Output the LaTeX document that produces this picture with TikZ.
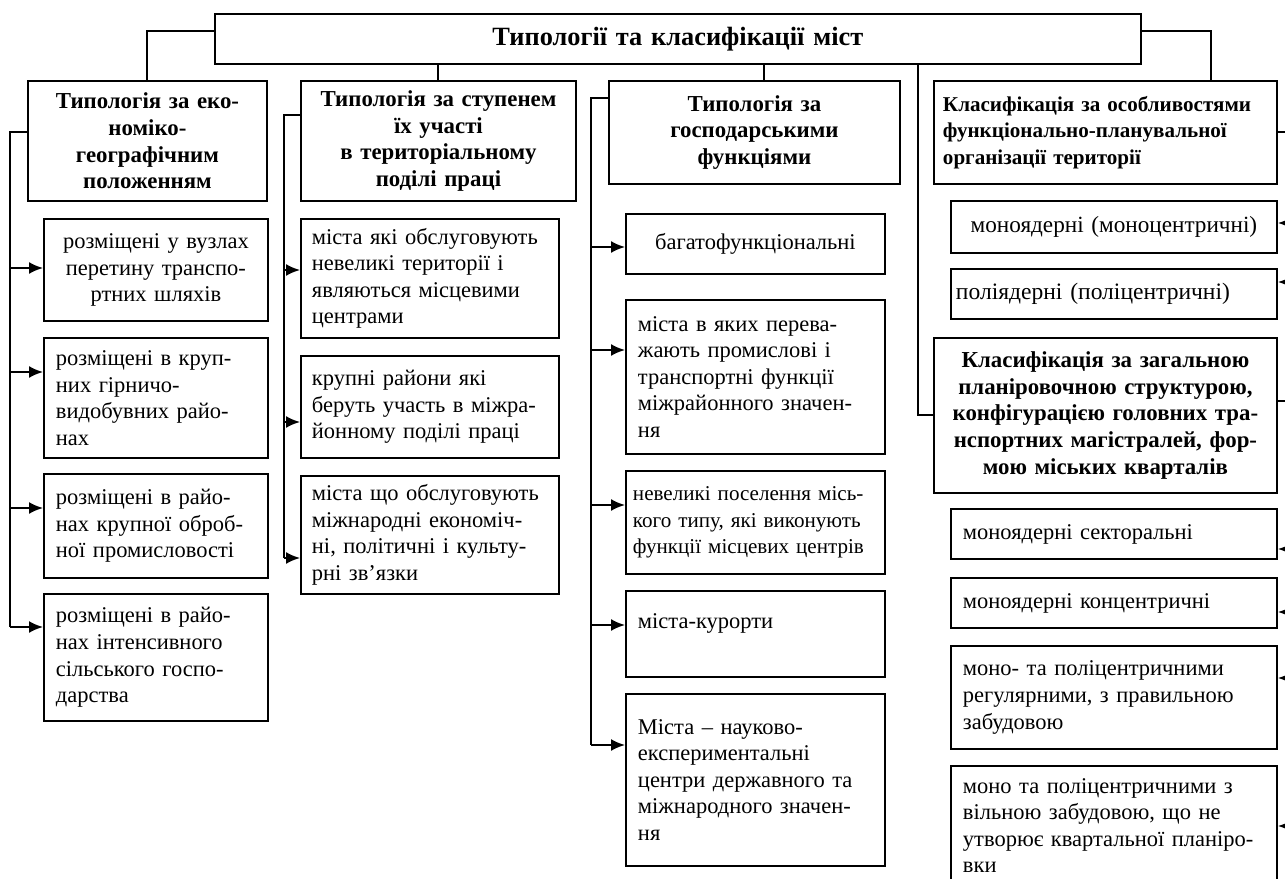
\documentclass[tikz,border=0pt]{standalone}
\usepackage{fontspec}
\setmainfont{Liberation Serif}
\usetikzlibrary{arrows.meta}

\tikzset{
  box/.style={draw, line width=1.1pt, anchor=north west, inner xsep=0.24cm, inner ysep=0pt,
              align=left, font=\fontsize{12.8}{15.1}\selectfont},
  head/.style={box, align=center, font=\fontsize{13}{15.1}\selectfont\bfseries},
  link/.style={line width=1.1pt},
  arr/.style={line width=1.1pt, -{Latex[length=2.8mm,width=2.4mm]}}
}

\begin{document}
\begin{tikzpicture}[x=0.02cm, y=-0.02cm]
\useasboundingbox (0,0) rectangle (1285,879);

% top
\node[head, font=\fontsize{15}{17}\selectfont\bfseries, text width=18.04cm, minimum height=1cm] (title) at (214,13) {Типології та класифікації міст};

\node[head, text width=4.3cm, minimum height=2.4cm] (h1) at (27,80) {Типологія за еко-\\номіко-\\географічним\\положенням};
\node[head, text width=5.02cm, minimum height=2.4cm] (h2) at (300,80) {Типологія за ступенем\\їх участі\\в територіальному\\поділі праці};
\node[head, text width=5.34cm, minimum height=2.06cm] (h3) at (608,80) {Типологія за\\господарськими\\функціями};
\node[head, align=left, font=\fontsize{12}{15.1}\selectfont\bfseries, inner xsep=0.18cm, text width=6.5cm, minimum height=2.06cm] (h4) at (933,80) {Класифікація за особливостями\\функціонально-планувальної\\організації території};

% column 1
\node[box, align=center, text width=4cm, minimum height=2.04cm] (b1) at (43,218) {розміщені у вузлах\\перетину транспо-\\ртних шляхів};
\node[box, text width=4cm, minimum height=2.4cm] (b2) at (43,337) {розміщені в круп-\\них гірничо-\\видобувних райо-\\нах};
\node[box, text width=4cm, minimum height=2.08cm] (b3) at (43,473) {розміщені в райо-\\нах крупної оброб-\\ної промисловості};
\node[box, text width=4cm, minimum height=2.54cm] (b4) at (43,593) {розміщені в райо-\\нах інтенсивного\\сільського госпо-\\дарства};

% column 2
\node[box, inner xsep=0.22cm, text width=4.72cm, minimum height=2.38cm] (c1) at (300,218) {міста які обслуговують\\невеликі території і\\являються місцевими\\центрами};
\node[box, inner xsep=0.22cm, text width=4.72cm, minimum height=2.04cm] (c2) at (300,355) {крупні райони які\\беруть участь в міжра-\\йонному поділі праці};
\node[box, inner xsep=0.22cm, text width=4.72cm, minimum height=2.36cm] (c3) at (300,475) {міста що обслуговують\\міжнародні економіч-\\ні, політичні і культу-\\рні зв’язки};

% column 3
\node[box, align=center, text width=4.7cm, minimum height=1.2cm] (d1) at (625,213) {багатофункціональні};
\node[box, text width=4.7cm, minimum height=3.08cm] (d2) at (625,299) {міста в яких перева-\\жають промислові і\\транспортні функції\\міжрайонного значен-\\ня};
\node[box, font=\fontsize{12}{15.1}\selectfont, inner xsep=0.14cm, text width=4.9cm, minimum height=2.06cm] (d3) at (625,470) {невеликі поселення місь-\\кого типу, які виконують\\функції місцевих центрів};
\node[box, text width=4.7cm, minimum height=1.72cm] (d4) at (625,590) {міста-курорти\\\mbox{}};
\node[box, text width=4.7cm, minimum height=3.44cm] (d5) at (625,693) {Міста – науково-\\експериментальні\\центри державного та\\міжнародного значен-\\ня};

% column 4
\node[box, align=center, font=\fontsize{13.2}{15.1}\selectfont, text width=6.04cm, minimum height=1.04cm] (e1) at (950,200) {моноядерні (моноцентричні)};
\node[box, font=\fontsize{13.4}{15.1}\selectfont, inner xsep=0.1cm, text width=6.32cm, minimum height=1cm] (e2) at (950,268) {поліядерні (поліцентричні)};
\node[head, inner xsep=0.08cm, text width=6.7cm, minimum height=3.1cm] (k2) at (933,337) {Класифікація за загальною\\планіровочною структурою,\\конфігурацією головних тра-\\нспортних магістралей, фор-\\мою міських кварталів};
\node[box, text width=6.04cm, minimum height=1cm] (f1) at (950,508) {моноядерні секторальні};
\node[box, text width=6.04cm, minimum height=1cm] (f2) at (950,577) {моноядерні концентричні};
\node[box, text width=6.04cm, minimum height=2.06cm] (f3) at (950,645) {моно- та поліцентричними\\регулярними, з правильною\\забудовою};
\node[box, text width=6.04cm, minimum height=2.38cm] (f4) at (950,765) {моно та поліцентричними з\\вільною забудовою, що не\\утворює квартальної планіро-\\вки};

% links from the title
\draw[link] ([yshift=4.5pt]title.west) -| (h1.north);
\draw[link] (title.south -| h2.north) -- (h2.north);
\draw[link] ([xshift=5.5pt]h3.north |- title.south) -- ([xshift=5.5pt]h3.north);
\draw[link] ([yshift=4.5pt]title.east) -| ([xshift=60pt]h4.north);

\coordinate (t1) at (10,132);
\coordinate (t2) at (284,115);
\coordinate (t3) at (591,98);
\coordinate (t4) at (918,0);
\coordinate (r1) at (1291,0);

% buses
\draw[link] (h1.west |- t1) -- (t1) -- (t1 |- 0,627);
\draw[link] (h2.west |- t2) -- (t2) -- (t2 |- 0,558);
\draw[link] (h3.west |- t3) -- (t3) -- (t3 |- 0,745);
\draw[link] (title.south -| t4) |- (k2.west);
\draw[link] (h4.east) -- (h4.east -| r1);
\draw[link] ([yshift=8pt]k2.east) -- ([yshift=8pt]k2.east -| r1);

% arrows
\foreach \n/\y in {b1/268,b2/372,b3/508,b4/627}
  \draw[arr] (t1 |- 0,\y) -- (\n.west |- 0,\y);
\foreach \n/\y in {c1/270,c2/422,c3/558}
  \draw[arr] (t2 |- 0,\y) -- (\n.west |- 0,\y);
\foreach \n/\y in {d1/247,d2/350,d3/505,d4/625,d5/745}
  \draw[arr] (t3 |- 0,\y) -- (\n.west |- 0,\y);
\foreach \n/\y in {e1/223,e2/282,f1/549,f2/612,f3/678,f4/826}
  \draw[arr] (r1 |- 0,\y) -- (\n.east |- 0,\y);
\end{tikzpicture}
\end{document}
